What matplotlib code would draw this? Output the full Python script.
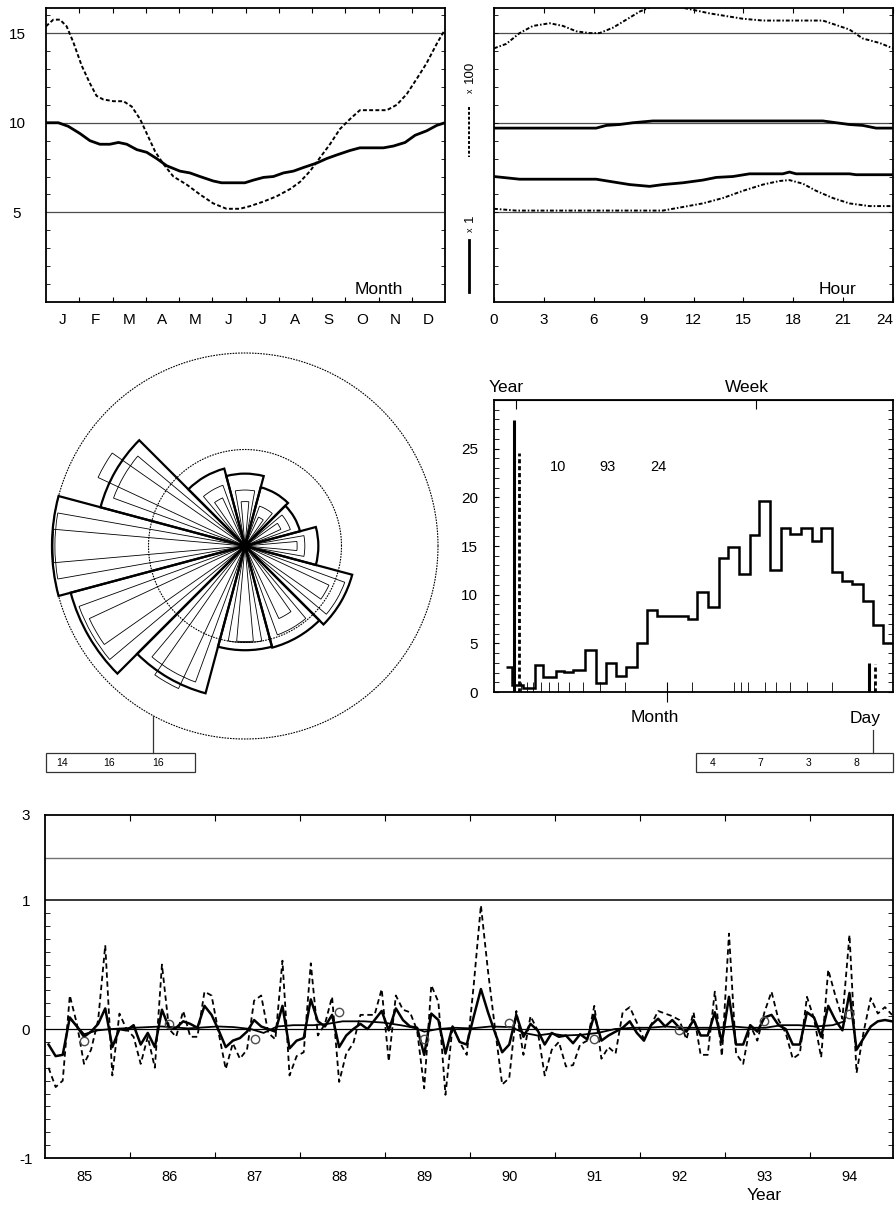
import numpy as np
import matplotlib
matplotlib.use('Agg')
import matplotlib.pyplot as plt
from matplotlib.patches import Rectangle
from matplotlib.ticker import NullLocator, NullFormatter

plt.rcParams['font.family'] = ['Liberation Sans', 'DejaVu Sans']

W, H = 896, 1207

# ---------------- data ----------------
# seasonal cycle (x in months from 1 Jan)
season_dash_x = [0.0, 0.22, 0.42, 0.62, 0.82, 1.07, 1.32, 1.52, 1.72, 2.03, 2.33, 2.58, 2.83, 3.03,
                 3.28, 3.53, 3.83, 4.23, 4.63, 5.03, 5.43, 5.83, 6.14, 6.54, 6.94, 7.34, 7.64, 7.94,
                 8.24, 8.54, 8.84, 9.14, 9.44, 9.84, 10.25, 10.55, 10.85, 11.15, 11.44, 11.75, 12.0]
season_dash_y = [15.38, 15.75, 15.75, 15.38, 14.5, 13.2, 12.2, 11.5, 11.3, 11.2, 11.2, 10.9, 10.2, 9.4,
                 8.4, 7.7, 7.0, 6.55, 6.0, 5.5, 5.2, 5.2, 5.35, 5.6, 5.9, 6.3, 6.7, 7.3,
                 8.05, 8.8, 9.65, 10.2, 10.7, 10.7, 10.7, 11.0, 11.6, 12.45, 13.3, 14.4, 15.2]
season_solid_x = [0.0, 0.37, 0.67, 1.02, 1.32, 1.62, 1.92, 2.18, 2.43, 2.73, 3.03, 3.33, 3.63, 4.03,
                  4.33, 4.63, 5.03, 5.28, 5.98, 6.24, 6.54, 6.84, 7.14, 7.44, 7.74, 8.14, 8.44, 8.74,
                  9.14, 9.44, 10.15, 10.45, 10.8, 11.1, 11.45, 11.75, 12.0]
season_solid_y = [10.0, 10.0, 9.8, 9.4, 9.0, 8.8, 8.8, 8.9, 8.8, 8.5, 8.35, 8.0, 7.6, 7.3,
                  7.2, 7.0, 6.75, 6.65, 6.65, 6.8, 6.95, 7.0, 7.2, 7.3, 7.5, 7.75, 8.0, 8.2,
                  8.45, 8.6, 8.6, 8.7, 8.9, 9.3, 9.55, 9.85, 10.0]
month_letters = ['J', 'F', 'M', 'A', 'M', 'J', 'J', 'A', 'S', 'O', 'N', 'D']

# daily cycle (x in hours)
day_dash_hi_x = [0, 0.74, 1.54, 2.34, 3.35, 4.15, 4.95, 5.75, 6.35, 7.15, 7.96, 8.76, 9.56, 10.36,
                 11.16, 11.96, 12.97, 13.97, 14.97, 16.17, 17.37, 18.58, 19.78, 20.58, 21.38,
                 22.18, 23.19, 24.0]
day_dash_hi_y = [14.15, 14.4, 15.0, 15.4, 15.55, 15.4, 15.1, 15.0, 15.0, 15.3, 15.75, 16.2, 16.5, 16.6,
                 16.45, 16.3, 16.1, 15.95, 15.8, 15.7, 15.7, 15.7, 15.7, 15.45, 15.2, 14.7, 14.45, 14.15]
day_solid_hi_x = [0, 6.15, 6.75, 7.55, 8.36, 9.56, 19.78, 20.58, 21.38, 22.18, 22.98, 24.0]
day_solid_hi_y = [9.7, 9.7, 9.85, 9.9, 10.0, 10.1, 10.1, 10.0, 9.9, 9.85, 9.7, 9.7]
day_solid_lo_x = [0, 1.54, 6.15, 7.15, 8.16, 9.36, 10.16, 11.36, 12.56, 13.37, 14.37, 15.37, 17.37,
                  17.77, 18.17, 21.38, 21.78, 24.0]
day_solid_lo_y = [7.0, 6.85, 6.85, 6.7, 6.55, 6.45, 6.55, 6.65, 6.8, 6.95, 7.0, 7.15, 7.15,
                  7.25, 7.15, 7.15, 7.1, 7.1]
day_dash_lo_x = [0, 1.34, 10.16, 11.36, 12.56, 13.77, 14.97, 16.17, 17.17, 17.77, 18.58, 19.38,
                 20.38, 21.38, 22.58, 24.0]
day_dash_lo_y = [5.2, 5.1, 5.1, 5.3, 5.5, 5.8, 6.2, 6.55, 6.75, 6.8, 6.6, 6.2, 5.8, 5.5, 5.35, 5.35]

# rose (direction of sector centre in degrees, radii for 30/20/10 degree sectors)
rose_dir = [0, 30, 60, 90, 120, 150, 180, 210, 240, 270, 300, 330]
rose_r30 = [7.6, 5.9, 6.3, 7.5, 8.3, 15.5, 20.0, 18.7, 15.8, 10.8, 10.9, 11.5]
rose_r20 = [6.2, 5.0, 4.4, 5.8, 6.7, 14.5, 19.7, 18.3, 15.0, 10.0, 9.8, 11.0]
rose_r10 = [5.4, 4.1, 3.3, 4.6, 5.5, 16.8, 19.9, 17.8, 16.3, 9.9, 8.3, 9.6]
rose_box = ['14', '16', '16']

# spectrum histogram (frequency in cycles per year)
spec_edges = [0.85, 0.93, 1.13, 1.37, 1.55, 1.92, 2.21, 2.57, 3.12, 3.74, 4.39, 5.17, 6.1, 7.4,
              8.7, 10.3, 16.9, 19.9, 23.7, 28.3, 33.1, 39.4, 47.3, 55.1, 65.6, 78.6, 91.9, 109.9,
              131.2, 152.5, 182.2, 216.4, 256.3, 304.4, 359.3, 423.2, 500]
spec_vals = [2.6, 0.7, 0.4, 2.8, 1.5, 2.2, 2.05, 2.25, 4.3, 0.95, 3.0, 1.6, 2.6, 5.0,
             8.4, 7.8, 7.45, 10.3, 8.75, 13.8, 14.9, 12.1, 16.1, 19.6, 12.5, 16.9, 16.2, 16.8,
             15.5, 16.8, 12.3, 11.4, 11.1, 9.3, 6.9, 5.05]
peak_solid_f = [0.97, 338]
peak_solid_h = [27.9, 3.0]
peak_dash_f = [1.056, 372]
peak_dash_h = [24.6, 2.9]
spec_numbers = ['10', '93', '24']
spec_box = ['4', '7', '3', '8']
month_periods = [11, 10, 9, 8, 7, 6, 5, 4, 3, 2]   # months
day_periods = [20, 10, 9, 8, 6, 5, 4, 3, 2, 1]      # days

# monthly anomalies 1985-1994
anom_dash = [-0.30, -0.45, -0.40, 0.26, 0.04, -0.27, -0.16, 0.07, 0.65, -0.36,
             0.12, 0.00, -0.06, -0.27, -0.06, -0.30, 0.50, 0.00, -0.06, 0.14,
             -0.06, -0.06, 0.29, 0.26, -0.03, -0.31, -0.11, -0.23, -0.16, 0.22,
             0.26, -0.03, -0.08, 0.53, -0.36, -0.21, -0.18, 0.51, -0.05, 0.04,
             0.25, -0.41, -0.19, -0.11, 0.11, 0.11, 0.11, 0.31, -0.25, 0.26,
             0.15, 0.13, -0.01, -0.46, 0.34, 0.21, -0.51, 0.02, -0.10, -0.20,
             0.35, 0.96, 0.45, 0.00, -0.43, -0.38, 0.14, -0.20, 0.10, -0.01,
             -0.36, -0.16, -0.10, -0.29, -0.28, -0.12, -0.09, 0.18, -0.23, -0.14,
             -0.19, 0.13, 0.17, 0.05, -0.08, 0.03, 0.14, 0.12, 0.10, 0.07,
             -0.08, 0.13, -0.20, -0.20, 0.29, -0.21, 0.74, -0.19, -0.27, 0.03,
             -0.09, 0.13, 0.29, 0.07, -0.03, -0.23, -0.19, 0.25, 0.08, -0.22,
             0.46, 0.26, 0.08, 0.73, -0.34, -0.02, 0.24, 0.12, 0.17, 0.11]
anom_solid = [-0.12, -0.21, -0.20, 0.09, 0.02, -0.06, -0.02, 0.04, 0.16, -0.14,
              0.00, -0.01, 0.03, -0.12, -0.03, -0.14, 0.15, 0.01, 0.01, 0.06,
              0.04, 0.01, 0.18, 0.11, -0.01, -0.14, -0.09, -0.07, -0.02, 0.07,
              0.02, 0.00, -0.02, 0.18, -0.15, -0.09, -0.07, 0.23, 0.06, 0.02,
              0.11, -0.14, -0.05, 0.00, 0.04, 0.00, 0.07, 0.14, -0.01, 0.16,
              0.07, 0.02, 0.01, -0.20, 0.12, 0.07, -0.19, 0.02, -0.10, -0.12,
              0.10, 0.31, 0.13, -0.03, -0.18, -0.12, 0.11, -0.06, 0.04, -0.01,
              -0.12, -0.03, -0.06, -0.05, -0.11, -0.04, -0.08, 0.11, -0.09, -0.05,
              -0.02, 0.01, 0.06, -0.03, -0.09, 0.03, 0.08, 0.02, 0.07, 0.01,
              -0.02, 0.07, -0.05, -0.05, 0.13, -0.10, 0.25, -0.12, -0.12, 0.03,
              -0.02, 0.09, 0.11, 0.03, 0.00, -0.12, -0.12, 0.13, 0.09, -0.06,
              0.18, 0.07, -0.01, 0.28, -0.16, -0.07, 0.02, 0.06, 0.07, 0.06]
smooth_x = [85.28, 85.46, 85.62, 85.78, 86.05, 86.37, 86.68, 87.03, 87.22, 87.42, 87.57, 87.73,
            87.92, 88.16, 88.32, 88.5, 88.75, 88.98, 89.18, 89.34, 89.46, 89.62, 89.81, 90.01,
            90.24, 90.48, 90.63, 90.79, 90.95, 91.1, 91.3, 91.5, 91.7, 91.91, 92.1, 92.3, 92.5,
            92.7, 92.9, 93.08, 93.27, 93.47, 93.66, 93.86, 94.06, 94.26, 94.4]
smooth_y = [0.09, -0.04, -0.01, 0.0, 0.01, 0.02, 0.005, 0.02, 0.015, 0.0, -0.03, 0.02,
            0.03, 0.03, 0.04, 0.06, 0.06, 0.05, 0.03, 0.01, -0.02, 0.0, 0.01, 0.005,
            0.02, 0.015, -0.03, -0.05, -0.035, -0.05, -0.045, -0.03, 0.0, 0.01, 0.01, 0.02, 0.01,
            0.01, 0.01, 0.02, 0.01, 0.01, 0.03, 0.03, 0.02, 0.03, 0.06]
annual_x = [85.46, 86.46, 87.47, 88.46, 89.46, 90.45, 91.45, 92.45, 93.45, 94.45]
annual_y = [-0.09, 0.04, -0.08, 0.13, -0.08, 0.05, -0.08, -0.01, 0.06, 0.12]
years = np.arange(85, 95)

months_x = 85 + (np.arange(len(anom_dash)) + 0.5) / 12


fig = plt.figure(figsize=(W / 100, H / 100), dpi=100)


def px_axes(x0, y0, x1, y1, **kw):
    # axes placed by pixel box (top-left origin)
    return fig.add_axes([x0 / W, 1 - y1 / H, (x1 - x0) / W, (y1 - y0) / H], **kw)


def cycle_frame(ax):
    ax.set_ylim(0, 16.4)
    for v in (5, 10, 15):
        ax.axhline(v, color='0.3', lw=0.9, zorder=1)
    ax.set_yticks(np.arange(1, 17), minor=True)
    ax.tick_params(axis='y', which='minor', direction='in', length=3, left=True, right=True)
    for s in ax.spines.values():
        s.set_linewidth(1.3)


# ---- seasonal cycle ----
ax1 = px_axes(46, 8, 445, 302)
cycle_frame(ax1)
ax1.plot(season_dash_x, season_dash_y, color='k', lw=1.4, ls=(0, (2, 1.2)))
ax1.plot(season_solid_x, season_solid_y, color='k', lw=2)
ax1.set_xlim(0, 12)
ax1.set_xticks(np.arange(1, 12))
ax1.xaxis.set_major_formatter(NullFormatter())
ax1.tick_params(axis='x', which='major', direction='in', length=3.5, top=True, bottom=True)
ax1.set_xticks(np.arange(12) + 0.5, minor=True)
ax1.set_xticklabels(month_letters, minor=True, fontsize=11)
ax1.tick_params(axis='x', which='minor', length=0, pad=8)
ax1.set_yticks([5, 10, 15])
ax1.set_yticklabels(['5', '10', '15'], fontsize=11)
ax1.tick_params(axis='y', which='major', length=0, pad=20.9)
for lab in ax1.get_yticklabels():
    lab.set_ha('center')

# ---- daily cycle ----
ax2 = px_axes(494, 8, 893, 302)
cycle_frame(ax2)
dashdot = (0, (2, 1, 0.8, 1))
ax2.plot(day_dash_hi_x, day_dash_hi_y, color='k', lw=1.4, ls=dashdot)
ax2.plot(day_solid_hi_x, day_solid_hi_y, color='k', lw=2)
ax2.plot(day_solid_lo_x, day_solid_lo_y, color='k', lw=2)
ax2.plot(day_dash_lo_x, day_dash_lo_y, color='k', lw=1.4, ls=dashdot)
ax2.set_xlim(0, 24)
ax2.set_xticks(np.arange(0, 25, 3))
ax2.set_xticklabels([str(h) for h in range(0, 25, 3)], fontsize=11)
ax2.tick_params(axis='x', direction='in', length=3.5, top=True, bottom=True, pad=8)
ax2.get_xticklabels()[-1].set_ha('right')
ax2.set_yticks([])
ax2.set_yticks(np.arange(1, 17), minor=True)

# ---- rose ----
R = 193
ax3 = fig.add_axes([(245 - R) / W, 1 - (546 + R) / H, 2 * R / W, 2 * R / H], projection='polar')
ax3.set_ylim(0, 20)
ax3.axis('off')
theta = np.deg2rad(rose_dir)
ring = np.linspace(0, 2 * np.pi, 361)
for rr in (10, 20):
    ax3.plot(ring, np.full(ring.size, rr), color='k', lw=0.8, ls=(0, (1.5, 1)), clip_on=False)
for rad, wid, lw in ((rose_r20, 20, 0.6), (rose_r10, 10, 0.6), (rose_r30, 30, 1.6)):
    bars = ax3.bar(theta, rad, width=np.deg2rad(wid), bottom=0, fill=False,
                   edgecolor='k', linewidth=lw)
    for b in bars:
        b.set_clip_on(False)

# ---- spectrum ----
ax4 = px_axes(494, 400, 893, 692)
ax4.set_xscale('log')
ax4.stairs(spec_vals, spec_edges, baseline=None, color='k', lw=1.8)
ax4.vlines(peak_solid_f, 0, peak_solid_h, color='k', lw=2.2)
ax4.vlines(peak_dash_f, 0, peak_dash_h, color='k', lw=2, linestyles=[(0, (1.5, 1))])
ax4.set_xlim(0.696, 500)
ax4.set_ylim(0, 30)
ax4.set_xticks([12])
ax4.xaxis.set_major_formatter(NullFormatter())
minor_f = list(12 / np.array(month_periods)) + list(365.25 / np.array(day_periods))
ax4.set_xticks(minor_f, minor=True)
ax4.xaxis.set_minor_formatter(NullFormatter())
ax4.tick_params(axis='x', which='major', direction='inout', length=15)
ax4.tick_params(axis='x', which='minor', direction='in', length=7)
ax4.set_yticks(np.arange(0, 30, 5))
ax4.set_yticklabels([str(v) for v in range(0, 30, 5)], fontsize=11)
ax4.set_yticks(np.arange(1, 30), minor=True)
ax4.tick_params(axis='y', which='both', direction='in', length=3.5, left=True, right=True)
ax4.tick_params(axis='y', which='major', pad=11.5)
sec = ax4.secondary_xaxis('top')
sec.set_xticks([1, 365.25 / 7])
sec.xaxis.set_minor_locator(NullLocator())
sec.xaxis.set_major_formatter(NullFormatter())
sec.tick_params(direction='in', length=6.5)
year_tick = sec.xaxis.get_major_ticks()[0]
for ln in (year_tick.tick1line, year_tick.tick2line):
    ln.set_linestyle((0, (2, 1)))
    ln.set_color('0.4')
for s in ax4.spines.values():
    s.set_linewidth(1.3)

# ---- anomalies ----
ax5 = px_axes(45, 815, 893, 1158)


def fwd(y):
    y = np.asarray(y, dtype=float)
    return np.where(y <= 1, y, 1 + (y - 1) * 0.33)


def inv(z):
    z = np.asarray(z, dtype=float)
    return np.where(z <= 1, z, 1 + (z - 1) / 0.33)


ax5.set_yscale('function', functions=(fwd, inv))
ax5.axhline(0, color='k', lw=0.9)
ax5.axhline(1, color='k', lw=1.1)
ax5.axhline(2, color='0.45', lw=1.0)
ax5.plot(months_x, anom_dash, color='k', lw=1.3, ls=(0, (3, 2)))
ax5.plot(months_x, anom_solid, color='k', lw=1.8)
ax5.plot(smooth_x, smooth_y, color='k', lw=1.3)
ax5.plot(annual_x, annual_y, 'o', mfc='none', mec='0.3', ms=6, mew=1)
ax5.set_xlim(85.0, 94.97)
ax5.set_ylim(-1, 3)
ax5.set_xticks(years[1:])
ax5.xaxis.set_major_formatter(NullFormatter())
ax5.tick_params(axis='x', which='major', direction='in', length=4, top=True, bottom=True)
ax5.set_xticks(years + 0.46, minor=True)
ax5.set_xticklabels([str(y) for y in years], minor=True, fontsize=10.5)
ax5.tick_params(axis='x', which='minor', length=0, pad=8.6)
ax5.set_yticks([-1, 0, 1, 3])
ax5.set_yticklabels(['-1', '0', '1', '3'], fontsize=11)
ax5.tick_params(axis='y', which='major', length=0, pad=13.7)
for lab in ax5.get_yticklabels():
    lab.set_ha('center')
ax5.set_yticks(np.round(np.arange(-0.9, 0.95, 0.1), 1), minor=True)
ax5.yaxis.set_minor_formatter(NullFormatter())
ax5.tick_params(axis='y', which='minor', direction='in', length=3.5, left=True, right=True)
for s in ax5.spines.values():
    s.set_linewidth(1.3)

# ---- annotations in pixel space ----
ov = fig.add_axes([0, 0, 1, 1])
ov.set_xlim(0, W)
ov.set_ylim(H, 0)
ov.axis('off')

ov.text(379, 289, 'Month', ha='center', va='center', fontsize=12.5)
ov.text(838, 289, 'Hour', ha='center', va='center', fontsize=12.5)
ov.text(470, 72, '100', rotation=90, ha='center', va='center', fontsize=9.5)
ov.text(470, 91, 'x', rotation=90, ha='center', va='center', fontsize=6.5)
ov.plot([469, 469], [107, 157], color='k', lw=1.4, ls=(0, (1.5, 1)))
ov.text(470, 218, '1', rotation=90, ha='center', va='center', fontsize=9.5)
ov.text(470, 230, 'x', rotation=90, ha='center', va='center', fontsize=6.5)
ov.plot([469, 469], [240, 292], color='k', lw=2)

ov.text(506, 387, 'Year', ha='center', va='center', fontsize=12.5)
ov.text(747, 387, 'Week', ha='center', va='center', fontsize=12.5)
ov.text(655, 718, 'Month', ha='center', va='center', fontsize=12.5)
ov.text(865, 718, 'Day', ha='center', va='center', fontsize=12.5)
for xx, t in zip([558, 607, 658], spec_numbers):
    ov.text(xx, 467, t, ha='center', va='center', fontsize=10.5)

ov.plot([873, 873], [730, 753], color='0.2', lw=0.9)
ov.add_patch(Rectangle((696, 753), 197, 19, fill=False, ec='0.2', lw=0.9))
for xx, t in zip([713, 760, 809, 856], spec_box):
    ov.text(xx, 763, t, ha='center', va='center', fontsize=7.5)

ov.plot([153, 153], [716, 753], color='0.2', lw=0.9)
ov.add_patch(Rectangle((46, 753), 149, 19, fill=False, ec='0.2', lw=0.9))
for xx, t in zip([62, 109, 158], rose_box):
    ov.text(xx, 763, t, ha='center', va='center', fontsize=7.5)

ov.text(764, 1196, 'Year', ha='center', va='center', fontsize=12.5)

fig.savefig('out.png', dpi=100)
